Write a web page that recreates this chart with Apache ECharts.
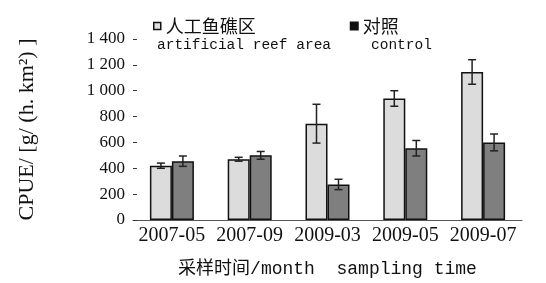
<!DOCTYPE html>
<html>
<head>
<meta charset="utf-8">
<script src="https://cdn.jsdelivr.net/npm/echarts@6/dist/echarts.min.js"></script>
<style>
html, body { margin: 0; padding: 0; background: #fff; }
#box { width: 546px; height: 283px; }
</style>
</head>
<body>
<div id="box"></div>
<script>
// sampling months
var months = ['2007-05', '2007-09', '2009-03', '2009-05', '2009-07'];
// CPUE, g/(h.km2)
var reefValues = [420, 470, 745, 940, 1145];
var reefErrors = [20, 15, 150, 60, 95];
var controlValues = [455, 500, 275, 555, 600];
var controlErrors = [40, 30, 40, 60, 65];

var chart = echarts.init(document.getElementById('box'));

var BAR_W = 22;

function errorSeries(values, errors, shift) {
	var data = values.map(function (v, i) { return [i, v, errors[i]]; });
	return {
		type: 'custom',
		silent: true,
		z: 5,
		data: data,
		renderItem: function (params, api) {
			var i = api.value(0);
			var v = api.value(1);
			var e = api.value(2);
			var top = api.coord([i, v + e]);
			var bot = api.coord([i, v - e]);
			var x = top[0] + shift;
			var style = { stroke: '#222', lineWidth: 1.5 };
			return {
				type: 'group',
				children: [
					{ type: 'line', shape: { x1: x, y1: top[1], x2: x, y2: bot[1] }, style: style },
					{ type: 'line', shape: { x1: x - 4, y1: top[1], x2: x + 4, y2: top[1] }, style: style },
					{ type: 'line', shape: { x1: x - 4, y1: bot[1], x2: x + 4, y2: bot[1] }, style: style }
				]
			};
		}
	};
}

var option = {
	backgroundColor: '#fff',
	animation: false,
	grid: { left: 133, right: 24, top: 39, bottom: 62, containLabel: false },
	legend: {
		left: 148,
		top: 12,
		itemWidth: 7,
		itemHeight: 7,
		itemGap: 94,
		textStyle: { fontFamily: 'Noto Sans CJK SC', fontSize: 18, color: '#111' },
		data: [
			{ name: '人工鱼礁区', icon: 'rect', itemStyle: { color: '#e0e0e0', borderColor: '#111', borderWidth: 1.5 } },
			{ name: '对照', icon: 'rect', itemStyle: { color: '#111' } }
		]
	},
	graphic: [
		{ type: 'text', left: 157, top: 38, style: { text: 'artificial reef area', font: '14.5px "Liberation Mono"', fill: '#111' } },
		{ type: 'text', left: 371, top: 38, style: { text: 'control', font: '14.5px "Liberation Mono"', fill: '#111' } }
	],
	xAxis: {
		type: 'category',
		data: months,
		name: '采样时间/month  sampling time',
		nameLocation: 'middle',
		nameGap: 40,
		nameTextStyle: { fontFamily: ['Liberation Mono', 'Noto Sans CJK SC'], fontSize: 18, color: '#111' },
		axisLine: { lineStyle: { color: '#555', width: 1 } },
		axisTick: { show: false },
		axisLabel: { interval: 0, fontFamily: 'Liberation Serif', fontSize: 20, color: '#111', margin: 6 }
	},
	yAxis: {
		type: 'value',
		min: 0,
		max: 1400,
		interval: 200,
		name: 'CPUE/ [g/ (h. km²) ]',
		nameLocation: 'middle',
		nameGap: 95,
		nameRotate: 90,
		nameTextStyle: { fontFamily: 'Liberation Serif', fontSize: 22, color: '#111' },
		axisLine: { show: false },
		axisTick: { show: true, inside: true, length: 4, lineStyle: { color: '#333' } },
		splitLine: { show: false },
		axisLabel: {
			fontFamily: 'Liberation Serif',
			fontSize: 17,
			color: '#111',
			margin: 8,
			formatter: function (v) {
				return v >= 1000 ? Math.floor(v / 1000) + ' ' + String(v % 1000).padStart(3, '0') : String(v);
			}
		}
	},
	series: [
		{
			name: '人工鱼礁区',
			type: 'bar',
			barWidth: BAR_W,
			barGap: '0%',
			data: reefValues,
			itemStyle: { color: '#dcdcdc', borderColor: '#111', borderWidth: 1.5 }
		},
		{
			name: '对照',
			type: 'bar',
			barWidth: BAR_W,
			barGap: '0%',
			data: controlValues,
			itemStyle: { color: '#7f7f7f', borderColor: '#111', borderWidth: 1.5 }
		},
		errorSeries(reefValues, reefErrors, -BAR_W / 2),
		errorSeries(controlValues, controlErrors, BAR_W / 2)
	]
};

chart.setOption(option);
</script>
</body>
</html>
